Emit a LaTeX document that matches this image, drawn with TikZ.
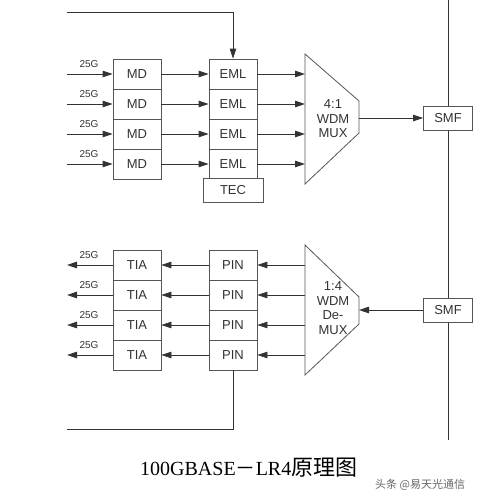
\documentclass[tikz,border=0pt]{standalone}
\usepackage{fontspec}
\setmainfont{Liberation Sans}
\newfontfamily\serifL{Liberation Serif}
\newfontfamily\cjk{Noto Sans CJK SC}
\usetikzlibrary{arrows.meta}
\definecolor{ln}{HTML}{333333}
\definecolor{bx}{HTML}{555555}
\tikzset{
  blk/.style={draw=bx, line width=0.8pt, fill=white, minimum width=48pt, minimum height=30pt, inner sep=0pt, font=\fontsize{13}{15}\selectfont, text=black!80},
  smfbox/.style={blk, minimum width=49pt, minimum height=24pt},
  tecbox/.style={blk, minimum width=60pt, minimum height=24pt},
  sig/.style={draw=ln, line width=0.8pt, -{Triangle[length=10pt,width=6.5pt]}},
  wire/.style={draw=ln, line width=0.8pt},
  rate/.style={font=\fontsize{10}{11}\selectfont, inner sep=0pt, text=black!80},
  muxtxt/.style={align=center, font=\fontsize{13}{14.5}\selectfont, inner sep=0pt, text=black!80},
}
\begin{document}
\begin{tikzpicture}[x=1pt,y=-1pt]
\useasboundingbox (0,0) rectangle (487,498);
% vertical fibre line
\coordinate (vtop) at (448,0);
\coordinate (vbot) at (448,440);
\draw[wire] (vtop) -- (vbot);
% ---------- transmitter ----------
\foreach \i/\y in {1/74,2/104,3/134,4/164}{
  \node[blk] (md\i) at (137,\y) {MD};
  \node[blk] (eml\i) at (233,\y) {EML};
  \coordinate (in\i) at (67,\y);
  \coordinate (mux\i) at (305,\y);
  \node[rate] (rt\i) at (89,\y-10) {25G};
}
\node[tecbox] (tec) at (233,190) {TEC};
\foreach \i in {1,2,3,4}{
  \draw[sig] (in\i) -- (md\i.west);
  \draw[sig] (md\i.east) -- (eml\i.west);
  \draw[sig] (eml\i.east) -- (mux\i);
}
\coordinate (fbstart) at (67,12);
\draw[sig] (fbstart) -| (eml1.north);
% MUX
\coordinate (mA) at (305,54);
\coordinate (mB) at (359,101);
\coordinate (mC) at (359,133);
\coordinate (mD) at (305,184);
\draw[draw=bx, line width=0.8pt] (mA) -- (mB) -- (mC) -- (mD) -- cycle;
\node[muxtxt] (muxlbl) at (333,119) {4:1\\WDM\\MUX};
\coordinate (muxout) at (359,118);
\node[smfbox] (smf1) at (448,118) {SMF};
\draw[sig] (muxout) -- (smf1.west);
% ---------- receiver ----------
\foreach \i/\y in {1/265,2/295,3/325,4/355}{
  \node[blk] (tia\i) at (137,\y) {TIA};
  \node[blk] (pin\i) at (233,\y) {PIN};
  \coordinate (out\i) at (67,\y);
  \coordinate (dmx\i) at (305,\y);
  \node[rate] (rr\i) at (89,\y-10) {25G};
}
\foreach \i in {1,2,3,4}{
  \draw[sig] (tia\i.west) -- (out\i);
  \draw[sig] (pin\i.west) -- (tia\i.east);
  \draw[sig] (dmx\i) -- (pin\i.east);
}
\coordinate (dA) at (305,245);
\coordinate (dB) at (359,297);
\coordinate (dC) at (359,324);
\coordinate (dD) at (305,375);
\draw[draw=bx, line width=0.8pt] (dA) -- (dB) -- (dC) -- (dD) -- cycle;
\node[muxtxt] (dmxlbl) at (333,308) {1:4\\WDM\\De-\\MUX};
\coordinate (dmxin) at (359,310);
\node[smfbox] (smf2) at (448,310) {SMF};
\draw[sig] (smf2.west) -- (dmxin);
\coordinate (fbend) at (67,429);
\draw[wire] (pin4.south) |- (fbend);
% ---------- caption ----------
\node[inner sep=0pt, anchor=base west] (cap) at (140,475)
  {{\serifL\fontsize{20}{22}\selectfont 100GBASE}{\cjk\fontsize{20}{22}\selectfont －}{\serifL\fontsize{20}{22}\selectfont LR4}{\cjk\fontsize{22}{24}\selectfont 原理图}};
\node[inner sep=0pt, anchor=base west, text=black!60] (wm) at (375,488)
  {\cjk\fontsize{11}{12}\selectfont 头条 @易天光通信};
\end{tikzpicture}
\end{document}
